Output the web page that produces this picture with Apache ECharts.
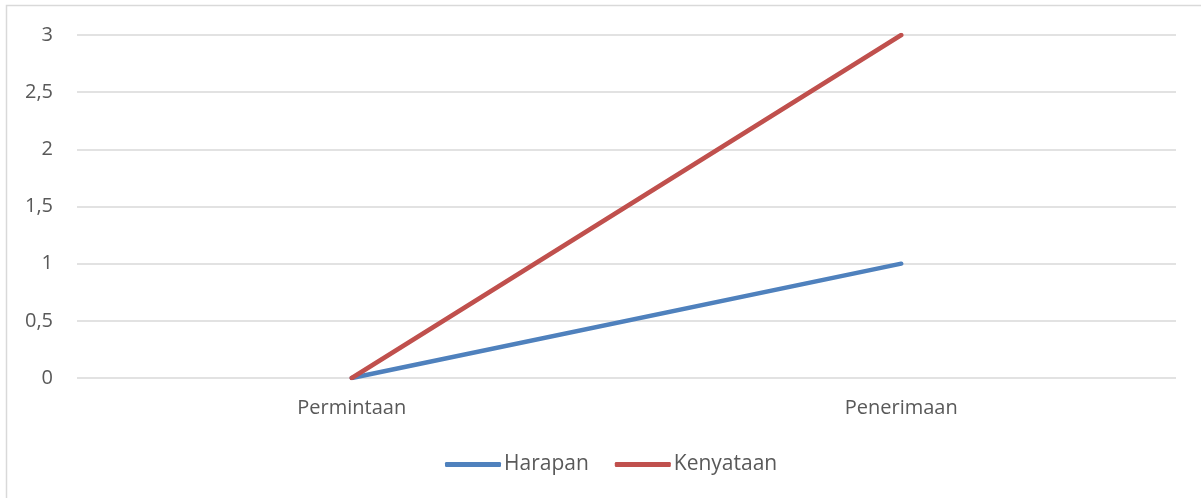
<!DOCTYPE html>
<html><head><meta charset="utf-8">
<script src="https://cdn.jsdelivr.net/npm/echarts@6/dist/echarts.min.js"></script>
<style>html,body{margin:0;padding:0;background:#fff}#c{width:1201px;height:498px}</style>
</head><body><div id="c"></div>
<script>
const categories = ["Permintaan", "Penerimaan"];
const harapan = [0, 1];
const kenyataan = [0, 3];
const seriesNames = ["Harapan", "Kenyataan"];

const chart = echarts.init(document.getElementById('c'), null, {renderer: 'canvas'});
const txt = '#595959';
const font = '"Open Sans", "Noto Sans", sans-serif';
chart.setOption({
  animation: false,
  backgroundColor: '#fff',
  graphic: [{type: 'rect', shape: {x: 6.5, y: 5.5, width: 1400, height: 700}, style: {fill: 'none', stroke: '#d9d9d9', lineWidth: 1.5}, silent: true}],
  grid: {left: 77, right: 25, top: 35, bottom: 120, containLabel: false},
  legend: {
    top: 449, left: 440,
    data: seriesNames,
    icon: 'roundRect', itemWidth: 56, itemHeight: 5, itemGap: 26,
    textStyle: {color: txt, fontSize: 21, fontFamily: font, padding: [0,0,0,-2]}
  },
  xAxis: {
    type: 'category', data: categories, boundaryGap: true,
    axisLine: {show: false}, axisTick: {show: false},
    axisLabel: {color: txt, fontSize: 20, fontFamily: font, margin: 20}
  },
  yAxis: {
    type: 'value', min: 0, max: 3, interval: 0.5,
    axisLine: {show: false}, axisTick: {show: false},
    splitLine: {lineStyle: {color: '#d9d9d9', width: 1.5}},
    axisLabel: {color: txt, fontSize: 20, fontFamily: font, margin: 24,
      formatter: v => String(v).replace('.', ',')}
  },
  series: [
    {name: seriesNames[0], type: 'line', data: harapan, symbol: 'none', color: '#4f81bd',
     lineStyle: {width: 4.5, color: '#4f81bd', cap: 'round'}},
    {name: seriesNames[1], type: 'line', data: kenyataan, symbol: 'none', color: '#c0504d',
     lineStyle: {width: 4.5, color: '#c0504d', cap: 'round'}}
  ]
});
</script></body></html>
